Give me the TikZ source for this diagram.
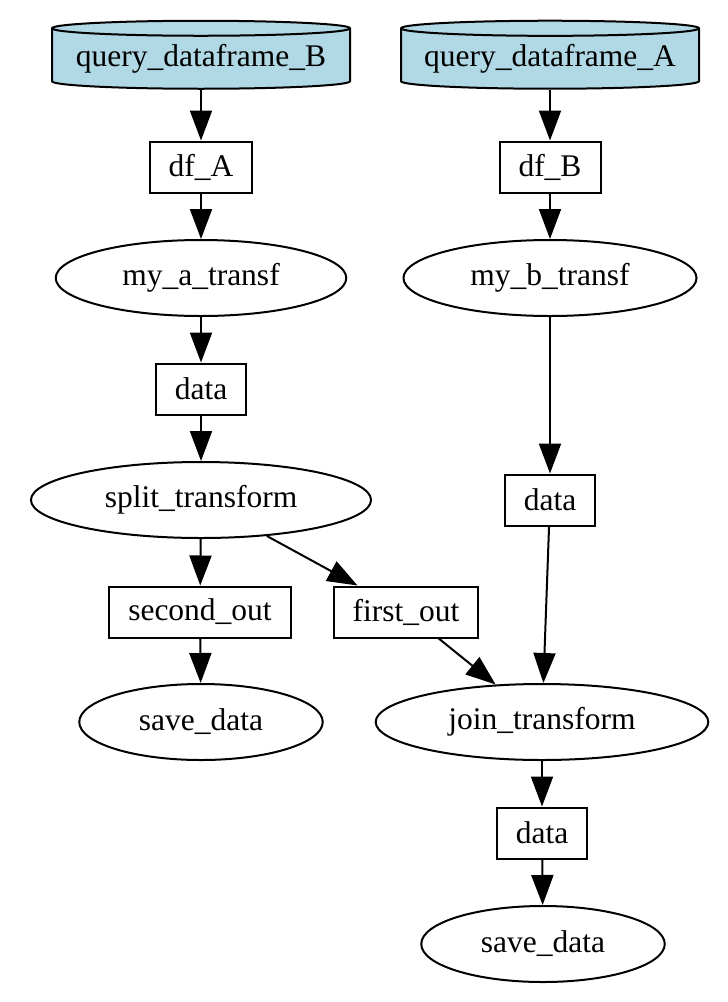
\documentclass[tikz,border=0pt]{standalone}
\usepackage{fontspec}
\setmainfont{Liberation Serif}
\usetikzlibrary{shapes.geometric,arrows.meta}

\definecolor{qblue}{RGB}{176,216,229}
\newcommand{\nodefont}[0]{\fontsize{31.5}{36}\selectfont}

\tikzset{
  dbnode/.style={cylinder, shape border rotate=90, aspect=0.06, draw, fill=qblue,
    line width=2pt, minimum width=298pt, minimum height=68pt, inner sep=0pt, font=\nodefont},
  datanode/.style={rectangle, draw, line width=2pt, minimum height=51pt,
    inner xsep=19pt, inner ysep=0pt, font=\nodefont},
  fnnode/.style={ellipse, draw, line width=2pt, minimum height=76pt,
    inner xsep=24pt, inner ysep=6pt, font=\nodefont},
  flow/.style={line width=2pt, -{Triangle[length=30pt,width=22pt]}}
}

\begin{document}
\begin{tikzpicture}[x=1pt, y=-1pt]
\useasboundingbox (0,0) rectangle (728,1002);

% sources
\node[dbnode] (qB) at (201,59) {query\_dataframe\_B};
\node[dbnode] (qA) at (550,59) {query\_dataframe\_A};

% left branch
\node[datanode] (dfA) at (201,167) {df\_A};
\node[fnnode] (mya) at (201,278) {my\_a\_transf};
\node[datanode] (dataa) at (201,389) {data};
\node[fnnode] (split) at (201,500) {split\_transform};
\node[datanode] (second) at (200,612) {second\_out};
\node[datanode] (first) at (406,612) {first\_out};
\node[fnnode] (savea) at (201,722) {save\_data};

% right branch
\node[datanode] (dfB) at (550,167) {df\_B};
\node[fnnode] (myb) at (550,278) {my\_b\_transf};
\node[datanode] (datab) at (550,500) {data};
\node[fnnode] (join) at (542,722) {join\_transform};
\node[datanode] (datac) at (542,833) {data};
\node[fnnode] (saveb) at (543,944) {save\_data};

\draw[flow] (qB) -- (dfA);
\draw[flow] (dfA) -- (mya);
\draw[flow] (mya) -- (dataa);
\draw[flow] (dataa) -- (split);
\draw[flow] (split) -- (second);
\draw[flow] (split) -- (first);
\draw[flow] (second) -- (savea);

\draw[flow] (qA) -- (dfB);
\draw[flow] (dfB) -- (myb);
\draw[flow] (myb) -- (datab);
\draw[flow] (datab) -- (join);
\draw[flow] (first) -- (join);
\draw[flow] (join) -- (datac);
\draw[flow] (datac) -- (saveb);

\end{tikzpicture}
\end{document}
